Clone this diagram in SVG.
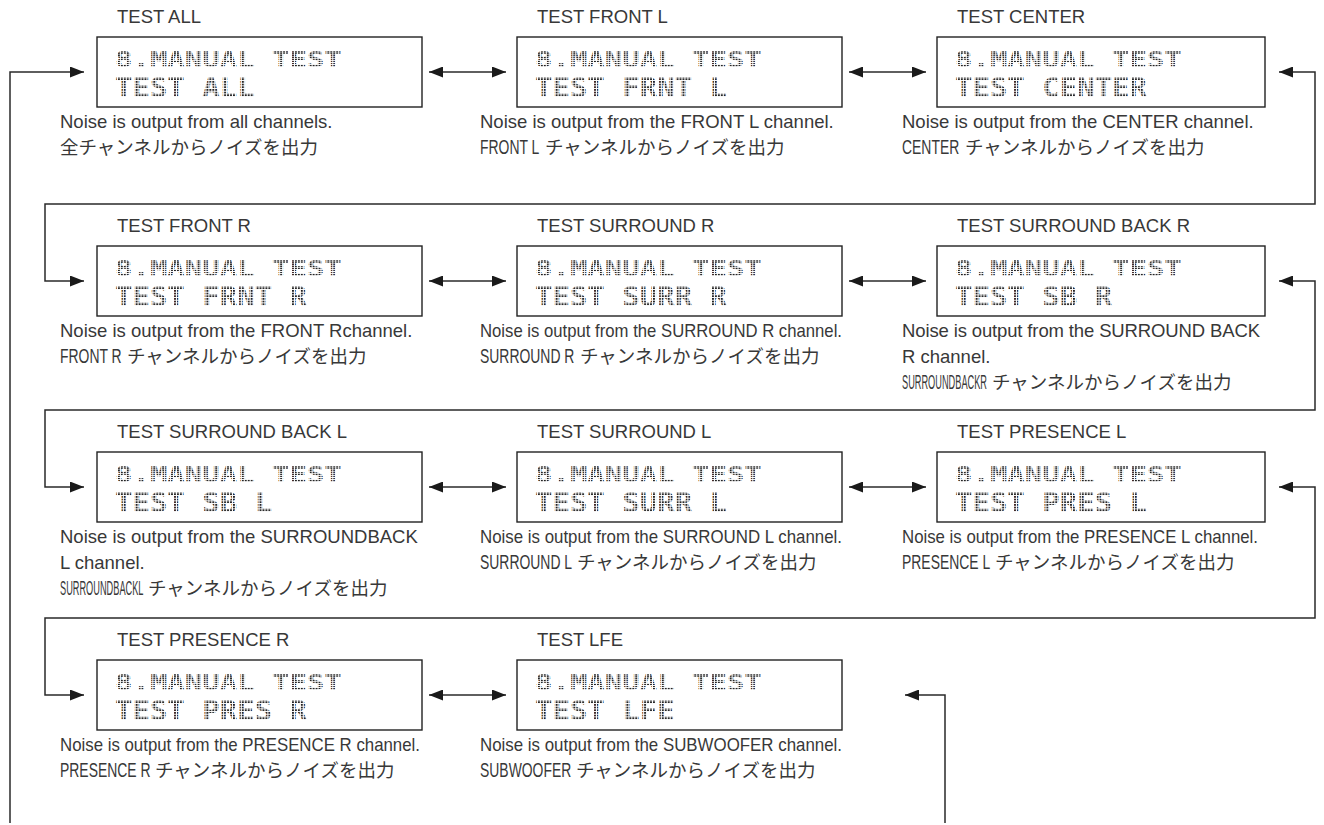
<svg xmlns="http://www.w3.org/2000/svg" width="1324" height="825" viewBox="0 0 1324 825">
<defs>
<pattern id="dots" width="2.95" height="2.9" patternUnits="userSpaceOnUse"><rect width="1.9" height="1.9" fill="#1e1e1e"/></pattern>
<marker id="ah" markerWidth="14" markerHeight="11" refX="14" refY="5.5" orient="auto-start-reverse" markerUnits="userSpaceOnUse"><path d="M0,0 L14,5.5 L0,11 z" fill="#1a1a1a"/></marker>
<style>
.box{fill:#fff;stroke:#222;stroke-width:1.4}
.lbl{font-family:"Liberation Sans",Arial,sans-serif;font-size:18.5px;fill:#383838}
.dsc{font-family:"Liberation Sans",Arial,sans-serif;font-size:18.5px;fill:#383838}
.jp{font-family:"Noto Sans CJK JP","Noto Sans",sans-serif;font-size:18.5px;fill:#383838}
.nar{font-family:"Liberation Sans",Arial,sans-serif;font-size:20.5px;fill:#383838}
.lcd{font-family:"DejaVu Sans Mono","Liberation Mono",monospace;font-size:29px;font-weight:bold;fill:url(#dots)}
.con{fill:none;stroke:#2a2a2a;stroke-width:1.5}
</style>
</defs>
<rect width="1324" height="825" fill="#fff"/>

<g id="connectors">
<path class="con" d="M84 72 H10 V823" marker-start="url(#ah)"/>
<path class="con" d="M429 72 H506" marker-start="url(#ah)" marker-end="url(#ah)"/>
<path class="con" d="M849 72 H926" marker-start="url(#ah)" marker-end="url(#ah)"/>
<path class="con" d="M1279 72 H1315 V204 H45 V281 H84" marker-start="url(#ah)" marker-end="url(#ah)"/>
<path class="con" d="M429 281 H506" marker-start="url(#ah)" marker-end="url(#ah)"/>
<path class="con" d="M849 281 H926" marker-start="url(#ah)" marker-end="url(#ah)"/>
<path class="con" d="M1279 281 H1315 V410 H45 V487 H84" marker-start="url(#ah)" marker-end="url(#ah)"/>
<path class="con" d="M429 487 H506" marker-start="url(#ah)" marker-end="url(#ah)"/>
<path class="con" d="M849 487 H926" marker-start="url(#ah)" marker-end="url(#ah)"/>
<path class="con" d="M1279 487 H1315 V618 H45 V695 H84" marker-start="url(#ah)" marker-end="url(#ah)"/>
<path class="con" d="M429 695 H506" marker-start="url(#ah)" marker-end="url(#ah)"/>
<path class="con" d="M905 695 H945 V823" marker-start="url(#ah)"/>
</g>

<g id="node-test-all">
<text class="lbl" x="117" y="23">TEST ALL</text>
<rect class="box" x="97" y="37" width="325" height="70"/>
<text class="lcd" transform="translate(115,67) scale(1,0.72)">8.MANUAL TEST</text>
<text class="lcd" transform="translate(115,97) scale(1,0.92)">TEST ALL</text>
<text class="dsc" x="60" y="128">Noise is output from all channels.</text>
<text class="jp" x="60" y="154">全チャンネルからノイズを出力</text>
</g>

<g id="node-test-front-l">
<text class="lbl" x="537" y="23">TEST FRONT L</text>
<rect class="box" x="517" y="37" width="325" height="70"/>
<text class="lcd" transform="translate(535,67) scale(1,0.72)">8.MANUAL TEST</text>
<text class="lcd" transform="translate(535,97) scale(1,0.92)">TEST FRNT L</text>
<text class="dsc" x="480" y="128">Noise is output from the FRONT L channel.</text>
<text class="nar" transform="translate(480,154) scale(0.68,1)">FRONT L</text>
<text class="jp" x="545" y="154">チャンネルからノイズを出力</text>
</g>

<g id="node-test-center">
<text class="lbl" x="957" y="23">TEST CENTER</text>
<rect class="box" x="937" y="37" width="328" height="70"/>
<text class="lcd" transform="translate(955,67) scale(1,0.72)">8.MANUAL TEST</text>
<text class="lcd" transform="translate(955,97) scale(1,0.92)">TEST CENTER</text>
<text class="dsc" x="902" y="128">Noise is output from the CENTER channel.</text>
<text class="nar" transform="translate(902,154) scale(0.68,1)">CENTER</text>
<text class="jp" x="965" y="154">チャンネルからノイズを出力</text>
</g>

<g id="node-test-front-r">
<text class="lbl" x="117" y="232">TEST FRONT R</text>
<rect class="box" x="97" y="246" width="325" height="70"/>
<text class="lcd" transform="translate(115,276) scale(1,0.72)">8.MANUAL TEST</text>
<text class="lcd" transform="translate(115,306) scale(1,0.92)">TEST FRNT R</text>
<text class="dsc" x="60" y="337">Noise is output from the FRONT Rchannel.</text>
<text class="nar" transform="translate(60,363) scale(0.68,1)">FRONT R</text>
<text class="jp" x="127" y="363">チャンネルからノイズを出力</text>
</g>

<g id="node-test-surround-r">
<text class="lbl" x="537" y="232">TEST SURROUND R</text>
<rect class="box" x="517" y="246" width="325" height="70"/>
<text class="lcd" transform="translate(535,276) scale(1,0.72)">8.MANUAL TEST</text>
<text class="lcd" transform="translate(535,306) scale(1,0.92)">TEST SURR R</text>
<text class="dsc" x="480" y="337" textLength="362" lengthAdjust="spacingAndGlyphs">Noise is output from the SURROUND R channel.</text>
<text class="nar" transform="translate(480,363) scale(0.68,1)">SURROUND R</text>
<text class="jp" x="580" y="363">チャンネルからノイズを出力</text>
</g>

<g id="node-test-surround-back-r">
<text class="lbl" x="957" y="232">TEST SURROUND BACK R</text>
<rect class="box" x="937" y="246" width="328" height="70"/>
<text class="lcd" transform="translate(955,276) scale(1,0.72)">8.MANUAL TEST</text>
<text class="lcd" transform="translate(955,306) scale(1,0.92)">TEST SB R</text>
<text class="dsc" x="902" y="337" textLength="358">Noise is output from the SURROUND BACK</text>
<text class="dsc" x="902" y="363">R channel.</text>
<text class="nar" transform="translate(902,389) scale(0.45,1)">SURROUNDBACKR</text>
<text class="jp" x="992" y="389">チャンネルからノイズを出力</text>
</g>

<g id="node-test-surround-back-l">
<text class="lbl" x="117" y="438">TEST SURROUND BACK L</text>
<rect class="box" x="97" y="452" width="325" height="70"/>
<text class="lcd" transform="translate(115,482) scale(1,0.72)">8.MANUAL TEST</text>
<text class="lcd" transform="translate(115,512) scale(1,0.92)">TEST SB L</text>
<text class="dsc" x="60" y="543">Noise is output from the SURROUNDBACK</text>
<text class="dsc" x="60" y="569">L channel.</text>
<text class="nar" transform="translate(60,595) scale(0.45,1)">SURROUNDBACKL</text>
<text class="jp" x="148" y="595">チャンネルからノイズを出力</text>
</g>

<g id="node-test-surround-l">
<text class="lbl" x="537" y="438">TEST SURROUND L</text>
<rect class="box" x="517" y="452" width="325" height="70"/>
<text class="lcd" transform="translate(535,482) scale(1,0.72)">8.MANUAL TEST</text>
<text class="lcd" transform="translate(535,512) scale(1,0.92)">TEST SURR L</text>
<text class="dsc" x="480" y="543" textLength="362" lengthAdjust="spacingAndGlyphs">Noise is output from the SURROUND L channel.</text>
<text class="nar" transform="translate(480,569) scale(0.68,1)">SURROUND L</text>
<text class="jp" x="577" y="569">チャンネルからノイズを出力</text>
</g>

<g id="node-test-presence-l">
<text class="lbl" x="957" y="438">TEST PRESENCE L</text>
<rect class="box" x="937" y="452" width="328" height="70"/>
<text class="lcd" transform="translate(955,482) scale(1,0.72)">8.MANUAL TEST</text>
<text class="lcd" transform="translate(955,512) scale(1,0.92)">TEST PRES L</text>
<text class="dsc" x="902" y="543" textLength="356" lengthAdjust="spacingAndGlyphs">Noise is output from the PRESENCE L channel.</text>
<text class="nar" transform="translate(902,569) scale(0.68,1)">PRESENCE L</text>
<text class="jp" x="995" y="569">チャンネルからノイズを出力</text>
</g>

<g id="node-test-presence-r">
<text class="lbl" x="117" y="646">TEST PRESENCE R</text>
<rect class="box" x="97" y="660" width="325" height="70"/>
<text class="lcd" transform="translate(115,690) scale(1,0.72)">8.MANUAL TEST</text>
<text class="lcd" transform="translate(115,720) scale(1,0.92)">TEST PRES R</text>
<text class="dsc" x="60" y="751" textLength="360" lengthAdjust="spacingAndGlyphs">Noise is output from the PRESENCE R channel.</text>
<text class="nar" transform="translate(60,777) scale(0.68,1)">PRESENCE R</text>
<text class="jp" x="155" y="777">チャンネルからノイズを出力</text>
</g>

<g id="node-test-lfe">
<text class="lbl" x="537" y="646">TEST LFE</text>
<rect class="box" x="517" y="660" width="325" height="70"/>
<text class="lcd" transform="translate(535,690) scale(1,0.72)">8.MANUAL TEST</text>
<text class="lcd" transform="translate(535,720) scale(1,0.92)">TEST LFE</text>
<text class="dsc" x="480" y="751" textLength="362" lengthAdjust="spacingAndGlyphs">Noise is output from the SUBWOOFER channel.</text>
<text class="nar" transform="translate(480,777) scale(0.68,1)">SUBWOOFER</text>
<text class="jp" x="576" y="777">チャンネルからノイズを出力</text>
</g>
</svg>
